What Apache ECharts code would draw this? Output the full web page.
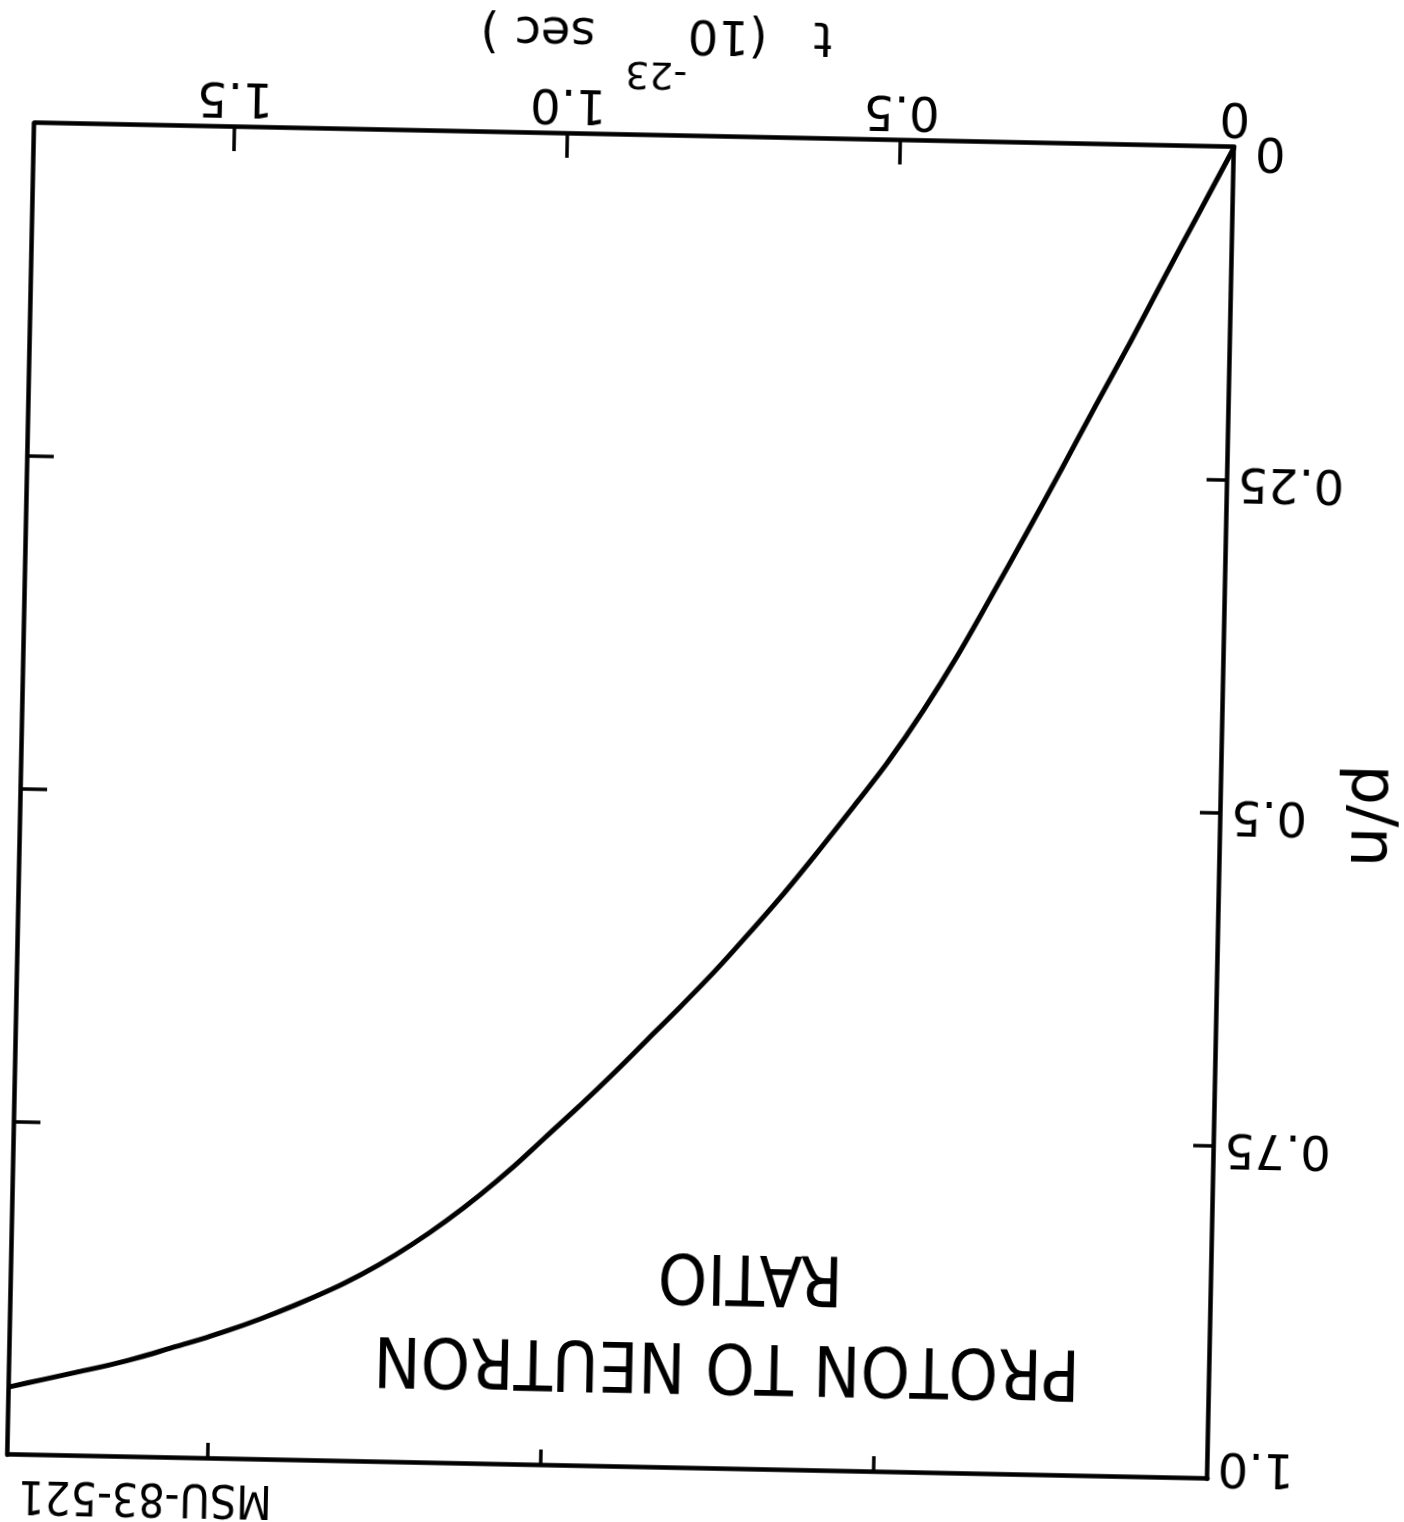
<!DOCTYPE html>
<html>
<head>
<meta charset="utf-8">
<script src="https://cdn.jsdelivr.net/npm/echarts@6/dist/echarts.min.js"></script>
<style>
html,body{margin:0;padding:0;background:#fff;overflow:hidden;width:1404px;height:1522px;}
#chart{position:absolute;left:0;top:0;width:1404px;height:1580px;
  transform-origin:782px 750px;transform:translate(-161px,51px) rotate(181.15deg);}
</style>
</head>
<body>
<div id="chart"></div>
<script>
// time t (10^-23 sec) and proton-to-neutron ratio
const tValues = [0, 0.05, 0.1, 0.15, 0.2, 0.25, 0.3, 0.35, 0.4, 0.45, 0.5, 0.55, 0.6, 0.65,
  0.7, 0.75, 0.8, 0.85, 0.9, 0.95, 1.0, 1.05, 1.1, 1.15, 1.2, 1.25, 1.3, 1.35, 1.4, 1.45,
  1.5, 1.55, 1.6, 1.65, 1.7, 1.75, 1.8];
const ratioValues = [0, 0.049, 0.098, 0.148, 0.196, 0.245, 0.293, 0.34, 0.386, 0.428, 0.466, 0.5,
  0.533, 0.565, 0.595, 0.624, 0.651, 0.677, 0.703, 0.728, 0.752, 0.776, 0.798, 0.818, 0.836,
  0.852, 0.866, 0.878, 0.889, 0.899, 0.908, 0.916, 0.924, 0.931, 0.937, 0.943, 0.949];
const xTickValues = [0, 0.5, 1.0, 1.5];
const xTickLabels = ['0', '0.5', '1.0', '1.5'];
const yTickValues = [0, 0.25, 0.5, 0.75, 1.0];
const yTickLabels = ['0', '0.25', '0.5', '0.75', '1.0'];
const xMinorTicks = [0.5, 1.0, 1.5];
const yMinorTicks = [0.25, 0.5, 0.75];
const xNameParts = ['t   (10', '-23', '  sec )'];
const yName = 'p/n';
const titleLines = ['PROTON TO NEUTRON', 'RATIO'];
const figureId = 'MSU-83-521';

const FONT = 'DejaVu Sans';
const COND = '"DejaVu Sans Condensed", "DejaVu Sans"';
const lineStyle = {color: '#000', width: 4.5};
const tickStyle = {color: '#000', width: 3.5};

// measure text widths so the superscript line lines up with its gap in the main line
const mctx = document.createElement('canvas').getContext('2d');
function textW(s, size) { mctx.font = size + 'px "' + FONT + '"'; return mctx.measureText(s).width; }
const MAIN = 48, SUP = 38;
const wL = textW(xNameParts[0], MAIN), wS = textW(xNameParts[1], SUP), wR = textW(xNameParts[2], MAIN);

const chart = echarts.init(document.getElementById('chart'), null, {renderer: 'canvas'});
const option = {
  animation: false,
  backgroundColor: '#fff',
  grid: {left: 182, top: 84, width: 1200, height: 1332, show: false, outerBoundsMode: 'none', containLabel: false},
  xAxis: [{
    type: 'value', position: 'bottom', min: 0, max: 1.8,
    axisLine: {show: true, onZero: false, lineStyle: lineStyle},
    axisTick: {show: true, inside: true, length: 24, lineStyle: tickStyle, customValues: xMinorTicks},
    axisLabel: {show: true, margin: 8, customValues: xTickValues, color: '#000', fontSize: 48, fontFamily: FONT,
      formatter: v => xTickLabels[xTickValues.indexOf(v)] ?? ''},
    splitLine: {show: false},
    name: '{gl| }{s|' + xNameParts[1] + '}{gr| }\n{m|' + xNameParts[0] + '}{gs| }{m|' + xNameParts[2] + '}',
    nameLocation: 'middle', nameGap: 46, nameMoveOverlap: false,
    nameTextStyle: {
      fontSize: MAIN, fontFamily: FONT, color: '#000', padding: [0, 40, 0, 0],
      rich: {
        gl: {width: wL, lineHeight: 34, fontSize: SUP, fontFamily: FONT},
        gr: {width: wR, lineHeight: 34, fontSize: SUP, fontFamily: FONT},
        s: {fontSize: SUP, lineHeight: 34, fontFamily: FONT, color: '#000'},
        gs: {width: wS, lineHeight: 48, fontSize: MAIN, fontFamily: FONT},
        m: {fontSize: MAIN, lineHeight: 48, fontFamily: FONT, color: '#000'}
      }
    }
  }, {
    type: 'value', position: 'top', min: 0, max: 1.8,
    axisLine: {show: true, onZero: false, lineStyle: lineStyle},
    axisTick: {show: true, inside: true, length: 16, lineStyle: tickStyle, customValues: xMinorTicks},
    axisLabel: {show: false},
    splitLine: {show: false}
  }],
  yAxis: [{
    type: 'value', position: 'left', min: 0, max: 1.0,
    axisLine: {show: true, onZero: false, lineStyle: lineStyle},
    axisTick: {show: true, inside: true, length: 21, lineStyle: tickStyle, customValues: yMinorTicks},
    axisLabel: {show: true, margin: 10, customValues: yTickValues, color: '#000', fontSize: 48, fontFamily: FONT,
      formatter: v => {
        const s = yTickLabels[yTickValues.indexOf(v)] ?? '';
        if (v === 0) return '{lo|' + s + '}';
        if (v === 1) return '{hi|' + s + '}';
        return s;
      },
      rich: {
        lo: {fontSize: 48, fontFamily: FONT, color: '#000', padding: [0, 11, 4, 0]},
        hi: {fontSize: 48, fontFamily: FONT, color: '#000', padding: [28, 0, 0, 0]}
      }
    },
    splitLine: {show: false},
    name: yName, nameLocation: 'middle', nameGap: 116, nameMoveOverlap: false,
    nameTextStyle: {fontSize: 64, fontFamily: FONT, color: '#000'}
  }, {
    type: 'value', position: 'right', min: 0, max: 1.0,
    axisLine: {show: true, onZero: false, lineStyle: lineStyle},
    axisTick: {show: true, inside: true, length: 26, lineStyle: tickStyle, customValues: yMinorTicks},
    axisLabel: {show: false},
    splitLine: {show: false}
  }],
  graphic: [
    {type: 'text', x: 665, y: 191, silent: true,
      style: {text: titleLines[0], fontSize: 70, fontFamily: COND, fill: '#000', align: 'center', verticalAlign: 'middle'}},
    {type: 'text', x: 643, y: 280, silent: true,
      style: {text: titleLines[1], fontSize: 70, fontFamily: COND, fill: '#000', align: 'center', verticalAlign: 'middle'}},
    {type: 'text', x: 1244, y: 46, silent: true,
      style: {text: figureId, fontSize: 46, fontFamily: COND, fill: '#000', align: 'center', verticalAlign: 'middle'}}
  ],
  series: [{
    type: 'line', xAxisIndex: 0, yAxisIndex: 0,
    data: tValues.map((t, i) => [t, ratioValues[i]]),
    showSymbol: false, smooth: 0.3, silent: true,
    lineStyle: {color: '#000', width: 5}
  }]
};
chart.setOption(option);
</script>
</body>
</html>
